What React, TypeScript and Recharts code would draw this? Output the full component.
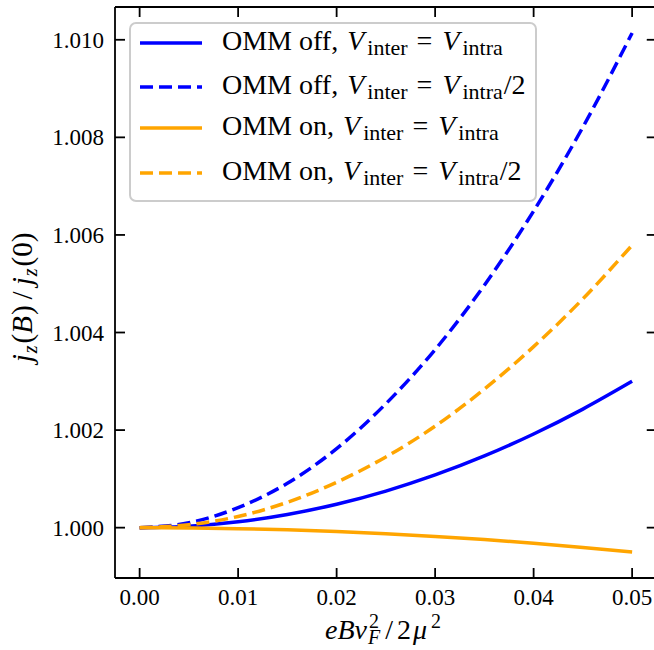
import React from 'react';
import { LineChart, Line, XAxis, YAxis, Legend } from 'recharts';

const xValues = [0, 0.005, 0.01, 0.015, 0.02, 0.025, 0.03, 0.035, 0.04, 0.045, 0.05];
const offEqual = [1.0, 1.00003, 1.00012, 1.00027, 1.00048, 1.00075, 1.00108, 1.00147, 1.00192, 1.00243, 1.003];
const offHalf = [1.0, 1.0001, 1.00041, 1.00091, 1.00162, 1.00254, 1.00365, 1.00497, 1.00649, 1.00821, 1.01014];
const onEqual = [1.0, 0.999995, 0.99998, 0.999955, 0.99992, 0.999875, 0.99982, 0.999755, 0.99968, 0.999595, 0.9995];
const onHalf = [1.0, 1.00006, 1.00023, 1.00052, 1.00093, 1.00145, 1.00208, 1.00284, 1.00371, 1.00469, 1.00579];

const xTicks = [0, 0.01, 0.02, 0.03, 0.04, 0.05];
const yTicks = [1.0, 1.002, 1.004, 1.006, 1.008, 1.01];

const seriesKeys = ['offEqual', 'offHalf', 'onEqual', 'onHalf'];
const seriesColors = ['#0000ff', '#0000ff', '#ffa500', '#ffa500'];
const seriesDashed = [false, true, false, true];
const legendPrefixes = ['OMM off, ', 'OMM off, ', 'OMM on, ', 'OMM on, '];
const legendSuffixes = ['', '/2', '', '/2'];

const data = xValues.map((x, i) => ({
  x,
  offEqual: offEqual[i],
  offHalf: offHalf[i],
  onEqual: onEqual[i],
  onHalf: onHalf[i],
}));

const FONT = "'Liberation Serif', 'Times New Roman', 'DejaVu Serif', serif";
const TICK_FS = 23;
const TICK_LEN = 10;
const SPINE_W = 1.8;
const DASH = '13 6';

const BottomTick = (props: any) => {
  const { x, y, payload } = props;
  return (
    <g>
      <line x1={x} x2={x} y1={y} y2={y - TICK_LEN} stroke="#000" strokeWidth={SPINE_W} />
      <text x={x} y={y + 27} textAnchor="middle" fontSize={TICK_FS} fill="#000" style={{ fontFamily: FONT }}>
        {Number(payload.value).toFixed(2)}
      </text>
    </g>
  );
};

const TopTick = (props: any) => {
  const { x, y } = props;
  return <line x1={x} x2={x} y1={y} y2={y + TICK_LEN} stroke="#000" strokeWidth={SPINE_W} />;
};

const LeftTick = (props: any) => {
  const { x, y, payload } = props;
  return (
    <g>
      <line x1={x} x2={x + TICK_LEN} y1={y} y2={y} stroke="#000" strokeWidth={SPINE_W} />
      <text x={x - 11} y={y + 8} textAnchor="end" fontSize={TICK_FS} fill="#000" style={{ fontFamily: FONT }}>
        {Number(payload.value).toFixed(3)}
      </text>
    </g>
  );
};

const RightTick = (props: any) => {
  const { x, y } = props;
  return <line x1={x} x2={x - TICK_LEN} y1={y} y2={y} stroke="#000" strokeWidth={SPINE_W} />;
};

const XLabel = (props: any) => {
  const vb = props.viewBox || { x: 115, y: 578, width: 541, height: 0 };
  return (
    <text x={325} y={vb.y + 61} textAnchor="start" fontSize={28} fill="#000" style={{ fontFamily: FONT }}>
      <tspan fontStyle="italic">eBv</tspan>
      <tspan fontSize={20} dx={2} dy={-11}>2</tspan>
      <tspan fontSize={20} fontStyle="italic" dx={-11} dy={16}>F</tspan>
      <tspan dx={5} dy={-5}>/</tspan>
      <tspan dx={4}>2</tspan>
      <tspan fontStyle="italic" dx={2}>μ</tspan>
      <tspan fontSize={20} dx={4} dy={-11}>2</tspan>
    </text>
  );
};

const YLabel = (props: any) => {
  const vb = props.viewBox || { x: 0, y: 7, width: 115, height: 571 };
  const cy = vb.y + vb.height / 2 + 5;
  return (
    <text
      transform={`translate(32, ${cy}) rotate(-90)`}
      x={0}
      y={0}
      textAnchor="middle"
      fontSize={29}
      fill="#000"
      style={{ fontFamily: FONT }}
    >
      <tspan fontStyle="italic">j</tspan>
      <tspan fontSize={20} fontStyle="italic" dx={1} dy={5}>z</tspan>
      <tspan dy={-5} dx={2}>(</tspan>
      <tspan fontStyle="italic">B</tspan>
      <tspan dx={1}>)</tspan>
      <tspan dx={6}>/</tspan>
      <tspan fontStyle="italic" dx={6}>j</tspan>
      <tspan fontSize={20} fontStyle="italic" dx={1} dy={5}>z</tspan>
      <tspan dy={-5} dx={2}>(0)</tspan>
    </text>
  );
};

const LEG_W = 408;
const LEG_H = 180;
const rowY = [21, 65, 106, 151];

const LegendBox = () => (
  <svg width={LEG_W} height={LEG_H} style={{ display: 'block' }}>
    <rect x={1} y={1} width={LEG_W - 2} height={LEG_H - 2} rx={6} ry={6} fill="#ffffff" fillOpacity={0.8} stroke="#cccccc" strokeWidth={2} />
    {seriesKeys.map((k, i) => (
      <g key={k}>
        <line
          x1={11}
          x2={73}
          y1={rowY[i]}
          y2={rowY[i]}
          stroke={seriesColors[i]}
          strokeWidth={3.5}
          strokeDasharray={seriesDashed[i] ? DASH : undefined}
        />
        <text x={93} y={rowY[i] + 6.5} fontSize={28} fill="#000" style={{ fontFamily: FONT }}>
          <tspan>{legendPrefixes[i]}</tspan>
          <tspan fontStyle="italic" dx={2}>V</tspan>
          <tspan fontSize={22} dx={3} dy={5}>inter</tspan>
          <tspan dy={-5} dx={9}>=</tspan>
          <tspan fontStyle="italic" dx={10}>V</tspan>
          <tspan fontSize={22} dx={3} dy={5}>intra</tspan>
          <tspan dy={-5} dx={1}>{legendSuffixes[i]}</tspan>
        </text>
      </g>
    ))}
  </svg>
);

export default function App() {
  return (
    <div style={{ position: 'absolute', left: 0, top: 0, width: 654, height: 650, overflow: 'hidden', background: '#fff' }}>
      <LineChart width={660} height={650} data={data} margin={{ top: 6, right: 2.25, left: 0, bottom: 71 }}>
        <XAxis
          dataKey="x"
          type="number"
          xAxisId="bottom"
          orientation="bottom"
          domain={[-0.0025, 0.0525]}
          ticks={xTicks}
          allowDataOverflow
          height={1}
          tickSize={0}
          tickMargin={0}
          tickLine={false}
          axisLine={{ stroke: '#000', strokeWidth: SPINE_W }}
          tick={<BottomTick />}
          interval={0}
          label={(p: any) => <XLabel {...p} />}
        />
        <XAxis
          dataKey="x"
          type="number"
          xAxisId="top"
          orientation="top"
          domain={[-0.0025, 0.0525]}
          ticks={xTicks}
          allowDataOverflow
          height={1}
          tickSize={0}
          tickMargin={0}
          tickLine={false}
          axisLine={{ stroke: '#000', strokeWidth: SPINE_W }}
          tick={<TopTick />}
          interval={0}
        />
        <YAxis
          yAxisId="left"
          orientation="left"
          type="number"
          domain={[0.998968, 1.010672]}
          ticks={yTicks}
          allowDataOverflow
          width={115}
          tickSize={0}
          tickMargin={0}
          tickLine={false}
          axisLine={{ stroke: '#000', strokeWidth: SPINE_W }}
          tick={<LeftTick />}
          interval={0}
          label={(p: any) => <YLabel {...p} />}
        />
        <YAxis
          yAxisId="right"
          orientation="right"
          type="number"
          domain={[0.998968, 1.010672]}
          ticks={yTicks}
          allowDataOverflow
          width={1}
          tickSize={0}
          tickMargin={0}
          tickLine={false}
          axisLine={{ stroke: '#000', strokeWidth: SPINE_W }}
          tick={<RightTick />}
          interval={0}
        />
        {seriesKeys.map((k, i) => (
          <Line
            key={k}
            xAxisId="bottom"
            yAxisId="left"
            dataKey={k}
            type="monotone"
            stroke={seriesColors[i]}
            strokeWidth={3.5}
            strokeDasharray={seriesDashed[i] ? DASH : undefined}
            dot={false}
            activeDot={false}
            isAnimationActive={false}
          />
        ))}
        <Legend
          layout="horizontal"
          verticalAlign="middle"
          align="center"
          content={() => <LegendBox />}
          wrapperStyle={{ position: 'absolute', left: 129, top: 22, width: LEG_W, height: LEG_H }}
        />
      </LineChart>
    </div>
  );
}
